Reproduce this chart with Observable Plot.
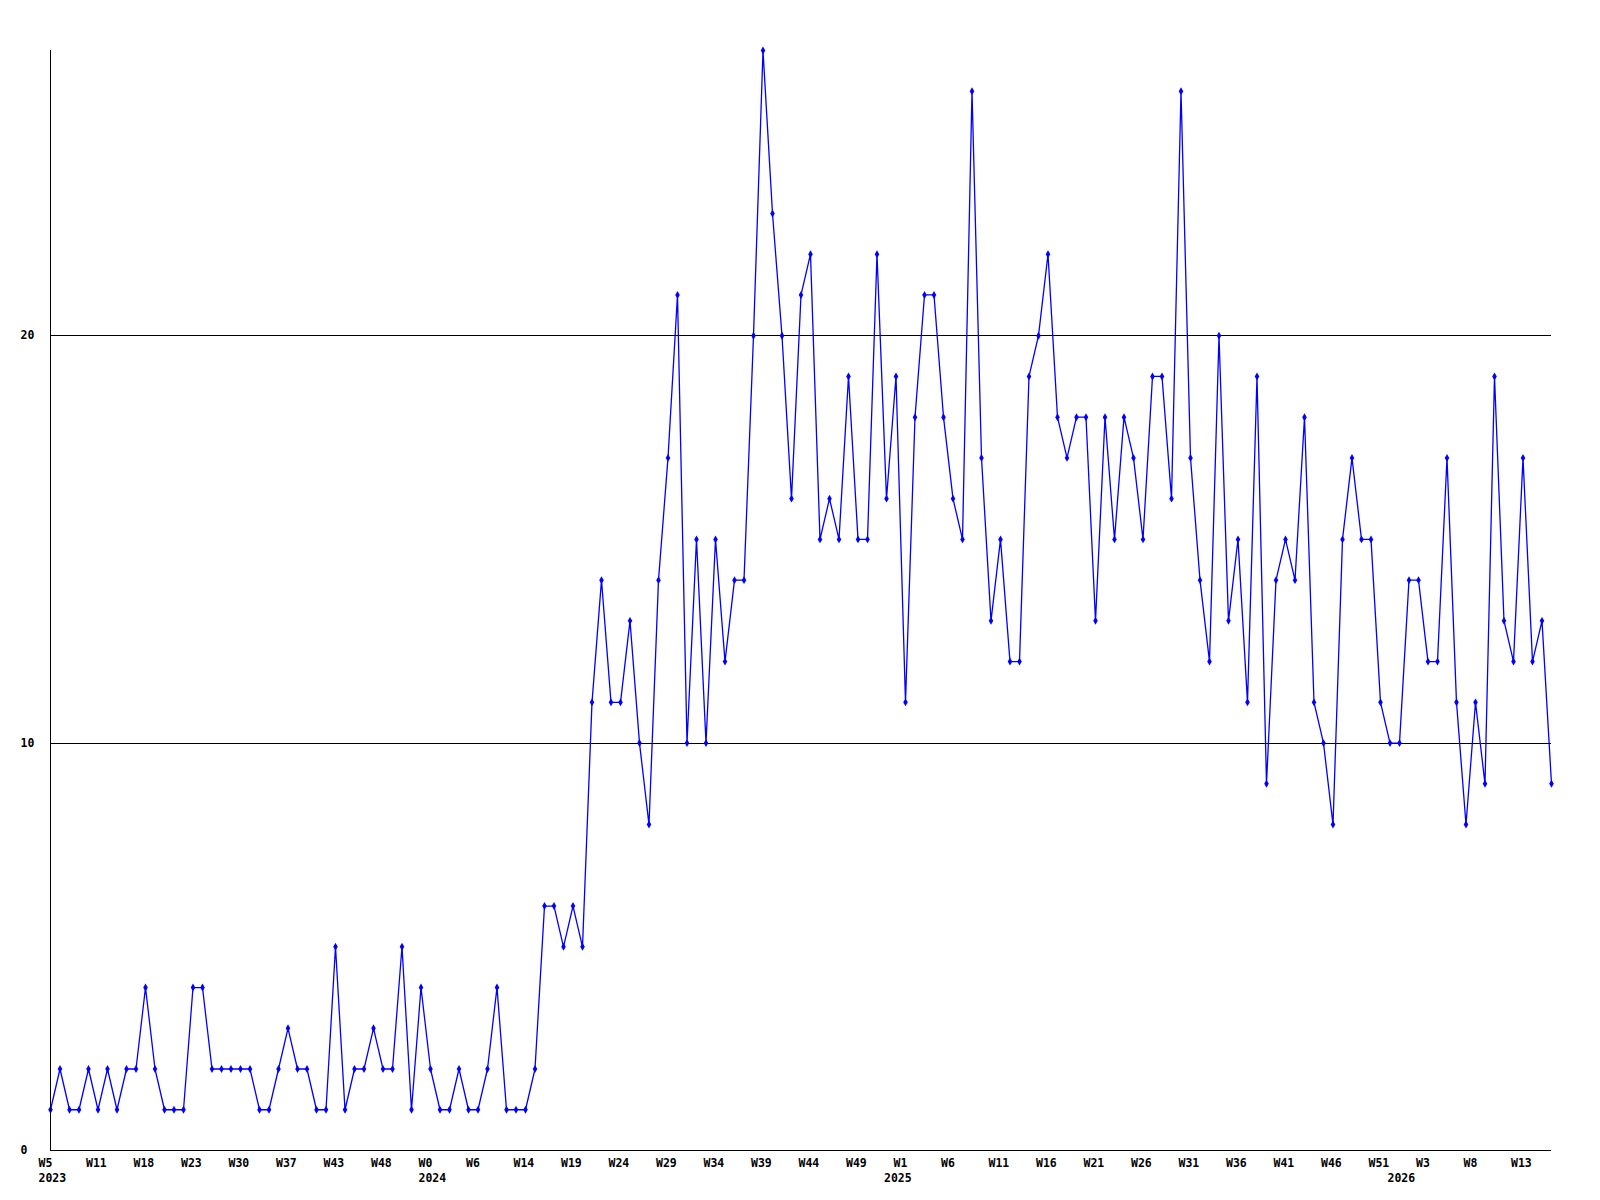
<!DOCTYPE html>
<html>
<head>
<meta charset="utf-8">
<script src="https://cdn.jsdelivr.net/npm/d3@7"></script>
<script src="https://cdn.jsdelivr.net/npm/@observablehq/plot@0.6"></script>
<style>
  html, body { margin: 0; padding: 0; background: #ffffff; }
  #chart { width: 1600px; height: 1200px; }
</style>
</head>
<body>
<div id="chart"></div>
<script>
// Weekly counts, one per plotted point (159 points)
const values = [
  1,2,1,1,2,1,2,1,2,2,
  4,2,1,1,1,4,4,2,2,2,
  2,2,1,1,2,3,2,2,1,1,
  5,1,2,2,3,2,2,5,1,4,
  2,1,1,2,1,1,2,4,1,1,
  1,2,6,6,5,6,5,11,14,11,
  11,13,10,8,14,17,21,10,15,10,
  15,12,14,14,20,27,23,20,16,21,
  22,15,16,15,19,15,15,22,16,19,
  11,18,21,21,18,16,15,26,17,13,
  15,12,12,19,20,22,18,17,18,18,
  13,18,15,18,17,15,19,19,16,26,
  17,14,12,20,13,15,11,19,9,14,
  15,14,18,11,10,8,15,17,15,15,
  11,10,10,14,14,12,12,17,11,8,
  11,9,19,13,12,17,12,13,9
];

// Week tick labels, one every 5 points
const weekLabels = [
  "W5","W11","W18","W23","W30","W37","W43","W48",
  "W0","W6","W14","W19","W24","W29","W34","W39","W44","W49",
  "W1","W6","W11","W16","W21","W26","W31","W36","W41","W46","W51",
  "W3","W8","W13"
];
const weekTickIdx = weekLabels.map((_, i) => i * 5);

// Year labels at the first point of each year
const yearLabels = ["2023", "2024", "2025", "2026"];
const yearIdx = [0, 40, 89, 142];

const yTicks = [0, 10, 20];
const gridValues = [10, 20];

const data = values.map((v, i) => ({i, v}));

const chart = Plot.plot({
  width: 1600,
  height: 1200,
  marginLeft: 50,
  marginRight: 49,
  marginTop: 50,
  marginBottom: 50,
  x: {domain: [0, values.length - 1]},
  y: {domain: [0, 27]},
  style: {
    fontFamily: "'DejaVu Sans Mono', monospace",
    fontWeight: "bold",
    fontSize: "11.5px",
    background: "#ffffff",
    color: "#000000"
  },
  marks: [
    Plot.ruleY(gridValues, {stroke: "#000000", strokeWidth: 1, shapeRendering: "crispEdges"}),
    Plot.axisY(yTicks, {
      tickSize: 0, tickPadding: 30, textAnchor: "start",
      tickFormat: d => String(d), label: null, fill: "#000000"
    }),
    Plot.axisX(weekTickIdx, {
      tickSize: 0, tickPadding: 8, textAnchor: "start", dx: -12,
      tickFormat: d => weekLabels[weekTickIdx.indexOf(d)], label: null, fill: "#000000"
    }),
    Plot.axisX(yearIdx, {
      tickSize: 0, tickPadding: 23, textAnchor: "start", dx: -12,
      tickFormat: d => yearLabels[yearIdx.indexOf(d)], label: null, fill: "#000000"
    }),
    Plot.line(data, {x: "i", y: "v", stroke: "#0000ff", strokeWidth: 1.3}),
    Plot.dot(data, {x: "i", y: "v", symbol: "diamond", r: 2.4, fill: "#0000ff", stroke: "none"}),
    Plot.ruleX([0], {stroke: "#000000", strokeWidth: 1, shapeRendering: "crispEdges"}),
    Plot.ruleY([0], {stroke: "#000000", strokeWidth: 1, shapeRendering: "crispEdges"})
  ]
});

document.getElementById("chart").appendChild(chart);
</script>
</body>
</html>
